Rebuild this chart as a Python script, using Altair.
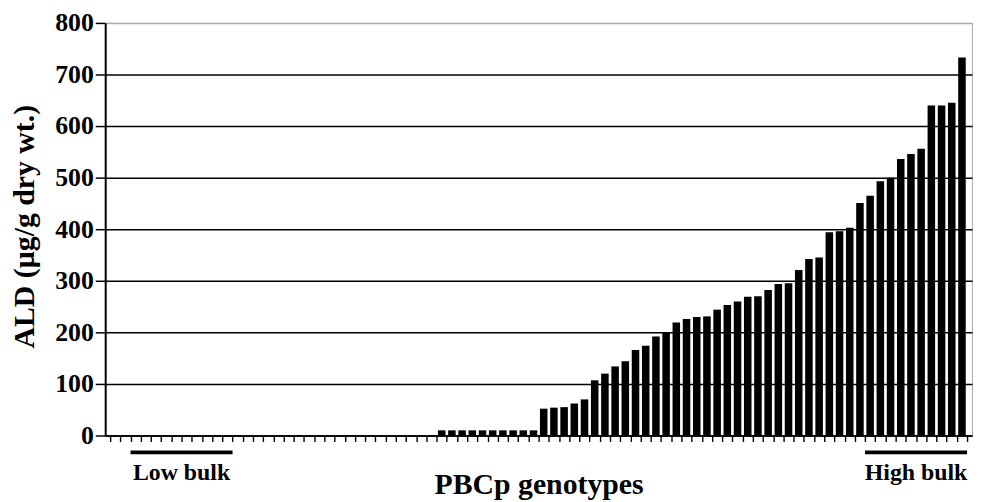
import altair as alt
import pandas as pd

# ALD content of the 84 PBCp genotypes, sorted (µg/g dry wt.)
ald = [1, 1, 1, 1, 1, 1, 1, 1, 1, 1, 1, 1, 1, 1, 1, 1,
       1, 1, 1, 1, 1, 1, 1, 1, 1, 1, 1, 1, 1, 1, 1, 1,
       10, 10, 10, 10, 10, 10, 10, 10, 10, 10,
       52, 54, 55, 62, 70, 107, 120, 134, 144, 166, 174, 192, 200,
       219, 226, 230, 231, 244, 253, 260, 269, 270, 282, 294, 295,
       321, 342, 345, 394, 396, 403, 451, 465, 493, 500,
       536, 546, 556, 640, 640, 645, 733]
genotype = list(range(len(ald)))

bulk_names = ["Low bulk", "High bulk"]
bulk_first = [2, 74]
bulk_last = [11, 83]

y_ticks = [0, 100, 200, 300, 400, 500, 600, 700, 800]
x_bounds = [g - 0.5 for g in genotype] + [genotype[-1] + 0.5]

FONT = "Liberation Serif"

bars_df = pd.DataFrame({"g": genotype, "ald": ald})
bulk_df = pd.DataFrame({"name": bulk_names, "first": bulk_first, "last": bulk_last})

xscale = alt.Scale(domain=[x_bounds[0], x_bounds[-1]], nice=False, zero=False)
yscale = alt.Scale(domain=[0, 800], nice=False)

x_axis = alt.Axis(values=x_bounds, labels=False, grid=False, tickSize=6,
                  tickColor="black", tickWidth=1.4,
                  domainColor="black", domainWidth=1.5, title="PBCp genotypes",
                  titleFont=FONT, titleFontSize=30, titleFontWeight="bold",
                  titleColor="black", titleBaseline="alphabetic", titleY=58)

bars = alt.Chart(bars_df).mark_bar(color="black", width=7.6).encode(
    x=alt.X("g:Q", scale=xscale, axis=x_axis),
    y=alt.Y("ald:Q", scale=yscale,
            axis=alt.Axis(values=y_ticks, tickSize=10, tickColor="black", tickWidth=1.5,
                          domainColor="black", domainWidth=2,
                          gridColor={"condition": {"test": "datum.value === 800", "value": "#aaaaaa"}, "value": "black"},
                          gridWidth=1.5,
                          labelFont=FONT, labelFontSize=26, labelFontWeight="bold",
                          labelColor="black", labelPadding=2,
                          title="ALD (µg/g dry wt.)", titleFont=FONT, titleFontSize=30,
                          titleFontWeight="bold", titleColor="black",
                          titleX=-66, titleY=205)),
)

base = alt.Chart(bulk_df).transform_calculate(
    start="datum.first - 0.5", end="datum.last + 0.5", mid="(datum.first + datum.last + 1) / 2 - 0.5"
)

rules = base.mark_rule(color="black", strokeWidth=4).encode(
    x=alt.X("start:Q", scale=xscale, axis=x_axis),
    x2="end:Q",
    y=alt.value(433),
)

labels = base.mark_text(font=FONT, fontSize=24, fontWeight="bold", color="black",
                        baseline="alphabetic", align="center").encode(
    x=alt.X("mid:Q", scale=xscale, axis=x_axis),
    y=alt.value(461),
    text="name:N",
)

chart = alt.layer(bars, rules, labels).properties(
    width=874, height=416,
    autosize=alt.AutoSizeParams(type="none"),
    padding={"left": 98, "top": 13, "right": 2, "bottom": 64},
).configure_view(stroke="#aaaaaa", strokeWidth=1)

chart.save("out.html", embed_options={"renderer": "svg", "actions": False})
